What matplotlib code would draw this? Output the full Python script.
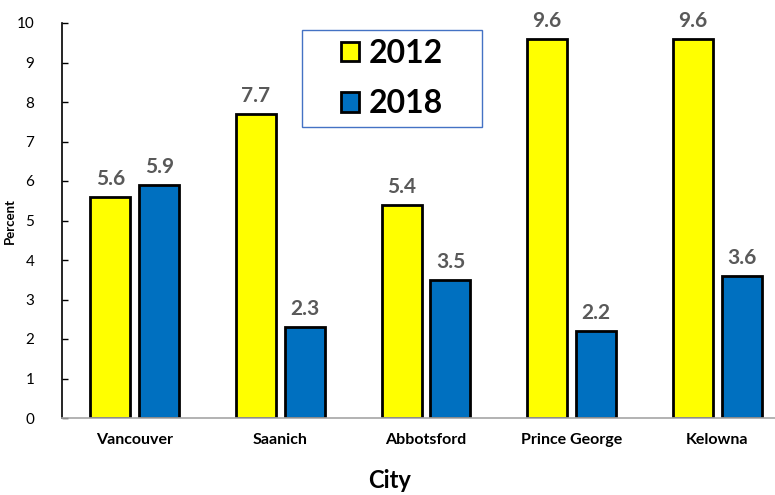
import matplotlib
matplotlib.use("Agg")
import matplotlib.pyplot as plt
from matplotlib.patches import Rectangle
import numpy as np

cities = ["Vancouver", "Saanich", "Abbotsford", "Prince George", "Kelowna"]
values_2012 = [5.6, 7.7, 5.4, 9.6, 9.6]
values_2018 = [5.9, 2.3, 3.5, 2.2, 3.6]
series_labels = ["2012", "2018"]
y_ticks = list(range(0, 11))

plt.rcParams['font.family'] = ['Lato', 'DejaVu Sans']

W, H = 775, 495
fig = plt.figure(figsize=(W / 100, H / 100), dpi=100)
ax = fig.add_axes([62 / W, 1 - 418 / H, 728 / W, 395 / H])

x = np.arange(len(cities))
w = 0.275
off = 0.168
b1 = ax.bar(x - off, values_2012, w, color="#FFFF00", edgecolor="black", linewidth=2, label=series_labels[0])
b2 = ax.bar(x + off, values_2018, w, color="#0070C0", edgecolor="black", linewidth=2, label=series_labels[1])

for bars, vals in ((b1, values_2012), (b2, values_2018)):
    for r, v in zip(bars, vals):
        ax.text(r.get_x() + r.get_width() / 2, v + 0.2, f"{v:.1f}", ha="center", va="bottom",
                fontsize=15, fontweight="bold", color="#595959")

ax.set_xlim(-0.5, len(cities) - 0.5)
ax.set_ylim(0, 10)
ax.set_yticks(y_ticks)
ax.set_yticklabels([str(t) for t in y_ticks], fontsize=11)
ax.set_xticks(x)
ax.set_xticklabels(cities, fontsize=11.5, fontweight="bold")
ax.tick_params(axis="y", direction="in", length=4, width=1, pad=20)
ax.tick_params(axis="x", length=0, pad=11)

for s in ("top", "right"):
    ax.spines[s].set_visible(False)
ax.spines["left"].set_color("black")
ax.spines["left"].set_linewidth(1.2)
ax.spines["bottom"].set_color("#A6A6A6")
ax.spines["bottom"].set_linewidth(1.2)

ax.set_ylabel("Percent", fontsize=9.5, fontweight="bold")
ax.yaxis.set_label_coords((16 - 62) / 728, 0.5)
ax.set_xlabel("City", fontsize=17, fontweight="bold")
ax.xaxis.set_label_coords((390 - 62) / 728, -(469 - 418) / 395)

# legend frame and entries
box = (302, 30, 482, 127)
fig.patches.append(Rectangle((box[0] / W, 1 - box[3] / H), (box[2] - box[0]) / W, (box[3] - box[1]) / H,
                             transform=fig.transFigure, facecolor="white", edgecolor="#4472C4",
                             linewidth=1, zorder=5))
leg = fig.legend(handles=[b1, b2], labels=series_labels, loc="center",
                 bbox_to_anchor=((box[0] + box[2]) / 2 / W, 1 - (box[1] + box[3]) / 2 / H),
                 prop={"size": 23, "weight": "bold"}, frameon=False,
                 handlelength=0.55, handleheight=0.55, handletextpad=0.3,
                 labelspacing=0.68, borderpad=0)
leg.set_zorder(6)

fig.savefig("out.png", dpi=100)
